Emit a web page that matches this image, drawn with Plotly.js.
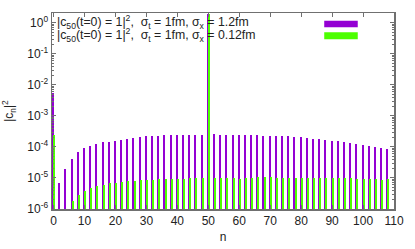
<!DOCTYPE html>
<html>
<head>
<meta charset="utf-8">
<script src="https://cdn.plot.ly/plotly-3.0.1.min.js"></script>
<style>html,body{margin:0;padding:0;background:#fff;}#chart{width:415px;height:249px;}</style>
</head>
<body>
<div id="chart"></div>
<script>
// n = 0, 2, 4, ..., 108
const nValues = [0,2,4,6,8,10,12,14,16,18,20,22,24,26,28,30,32,34,36,38,40,42,44,46,48,50,52,54,56,58,60,62,64,66,68,70,72,74,76,78,80,82,84,86,88,90,92,94,96,98,100,102,104,106,108];

// |c_n|^2, sigma_t = 1fm, sigma_x = 1.2fm
const seriesWide = [5.6e-3,6.8e-6,2.0e-5,4.1e-5,6.7e-5,9.1e-5,1.05e-4,1.26e-4,1.41e-4,1.5e-4,1.6e-4,1.68e-4,1.8e-4,1.95e-4,2.1e-4,2.2e-4,2.26e-4,2.3e-4,2.38e-4,2.44e-4,2.44e-4,2.44e-4,2.5e-4,2.5e-4,2.5e-4,2.0,2.57e-4,2.5e-4,2.5e-4,2.5e-4,2.44e-4,2.44e-4,2.38e-4,2.38e-4,2.32e-4,2.32e-4,2.28e-4,2.26e-4,2.2e-4,2.1e-4,2.05e-4,1.95e-4,1.85e-4,1.77e-4,1.68e-4,1.6e-4,1.52e-4,1.41e-4,1.32e-4,1.22e-4,1.13e-4,1.07e-4,1.0e-4,9.3e-5,8.6e-5];

// |c_n|^2, sigma_t = 1fm, sigma_x = 0.12fm
const seriesNarrow = [2.5e-4,null,null,1.8e-6,2.8e-6,3.9e-6,4.7e-6,5.4e-6,5.9e-6,6.7e-6,7.1e-6,7.4e-6,7.8e-6,8.0e-6,8.4e-6,8.6e-6,8.8e-6,9.05e-6,9.05e-6,9.3e-6,9.3e-6,9.5e-6,9.75e-6,1.0e-5,1.0e-5,2.0,1.0e-5,9.75e-6,1.0e-5,1.0e-5,9.3e-6,1.02e-5,1.02e-5,1.05e-5,1.05e-5,1.05e-5,1.02e-5,1.02e-5,1.02e-5,1.02e-5,1.02e-5,1.02e-5,1.0e-5,1.0e-5,1.0e-5,1.0e-5,1.0e-5,9.75e-6,9.75e-6,9.5e-6,9.3e-6,9.3e-6,9.05e-6,8.8e-6,9.05e-6];

const seriesLabels = [
  "|c<sub>50</sub>(t=0) = 1|<sup>2</sup>,  σ<sub>t</sub> = 1fm, σ<sub>x</sub> = 1.2fm",
  "|c<sub>50</sub>(t=0) = 1|<sup>2</sup>,  σ<sub>t</sub> = 1fm, σ<sub>x</sub> = 0.12fm"
];

const xTickVals = [0,10,20,30,40,50,60,70,80,90,100,110];
const yTickVals = [1e-6,1e-5,1e-4,1e-3,1e-2,1e-1,1];
const yTickText = ["10<sup>-6</sup>","10<sup>-5</sup>","10<sup>-4</sup>","10<sup>-3</sup>","10<sup>-2</sup>","10<sup>-1</sup>","10<sup>0</sup>"];

const purple = '#9400d3';
const green = '#4cff00';
const axisCol = '#707070';
const fontFam = 'Liberation Sans, Arial, sans-serif';

const traces = [
  {type:'bar', x:nValues, y:seriesWide, width:0.65, offset:-0.5,
   marker:{color:purple, line:{width:0}}, name:seriesLabels[0], showlegend:false},
  {type:'bar', x:nValues, y:seriesNarrow, width:0.65, offset:-0.15,
   marker:{color:green, line:{width:0}}, name:seriesLabels[1], showlegend:false}
];

const swX0 = 0.796, swX1 = 0.894;
const layout = {
  width:415, height:249,
  margin:{l:52, r:21, t:13, b:40},
  paper_bgcolor:'#fff', plot_bgcolor:'#fff',
  barmode:'overlay', bargap:0,
  font:{family:fontFam, size:12, color:'#222'},
  xaxis:{
    range:[-0.5,110], tickmode:'array', tickvals:xTickVals,
    ticks:'inside', ticklen:4, tickcolor:axisCol, tickwidth:1,
    showline:true, linecolor:axisCol, linewidth:1.5, mirror:'ticks',
    showgrid:false, zeroline:false,
    tickfont:{family:fontFam, size:12, color:'#222'},
    title:{text:'n', font:{family:fontFam, size:12, color:'#222'}, standoff:5}
  },
  yaxis:{
    type:'log', range:[-6, 0.32], tickmode:'array', tickvals:yTickVals, ticktext:yTickText,
    ticks:'inside', ticklen:4, tickcolor:axisCol, tickwidth:1,
    minor:{ticks:'inside', ticklen:2, tickcolor:axisCol, dtick:'D1', showgrid:false},
    showline:true, linecolor:axisCol, linewidth:1.5, mirror:'ticks',
    showgrid:false, zeroline:false,
    tickfont:{family:fontFam, size:12, color:'#222'},
    title:{text:'|c<sub>n</sub>|<sup>2</sup>', font:{family:fontFam, size:12, color:'#222'}, standoff:13}
  },
  annotations:[
    {xref:'paper', yref:'paper', x:0.009, y:0.954, xanchor:'left', yanchor:'middle',
     text:seriesLabels[0], showarrow:false, font:{family:fontFam, size:12.3, color:'#222'}},
    {xref:'paper', yref:'paper', x:0.009, y:0.888, xanchor:'left', yanchor:'middle',
     text:seriesLabels[1], showarrow:false, font:{family:fontFam, size:12.3, color:'#222'}}
  ],
  shapes:[
    {type:'rect', xref:'paper', yref:'paper', x0:swX0, x1:swX1, y0:0.927, y1:0.961,
     fillcolor:purple, line:{width:0}},
    {type:'rect', xref:'paper', yref:'paper', x0:swX0, x1:swX1, y0:0.866, y1:0.902,
     fillcolor:green, line:{width:0}}
  ]
};

Plotly.newPlot('chart', traces, layout, {displayModeBar:false, staticPlot:true});
</script>
</body>
</html>
